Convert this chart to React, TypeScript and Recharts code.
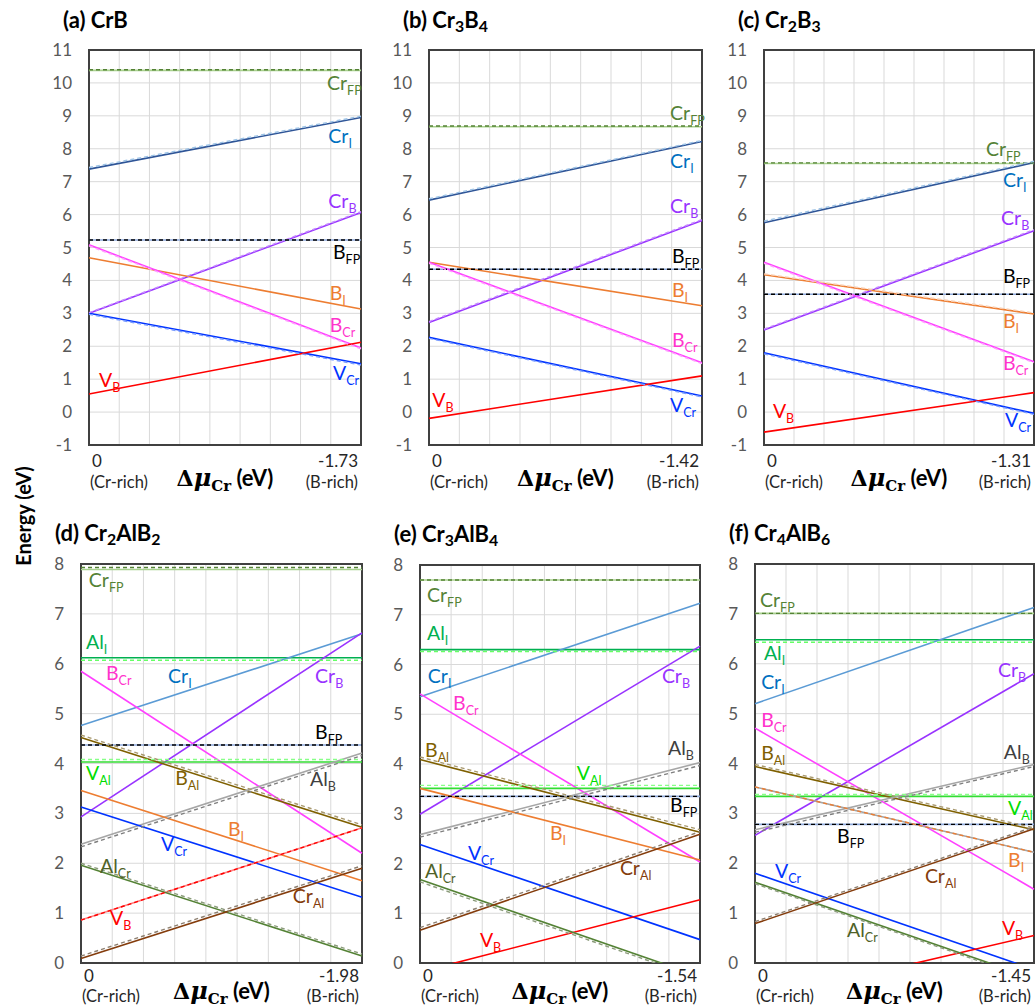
import React from "react";
import { LineChart, Line, XAxis, YAxis, CartesianGrid, ReferenceDot, ReferenceArea } from "recharts";

type Key =
  | "CrFP" | "CrI" | "CrB" | "BFP" | "BI" | "BCr" | "VCr" | "VB"
  | "AlI" | "VAl" | "BAl" | "AlB" | "AlCr" | "CrAl";
type Num = number | null;

// panel titles and Δμ_Cr range (eV) at the B-rich end
const titles = ["(a) CrB", "(b) Cr3B4", "(c) Cr2B3", "(d) Cr2AlB2", "(e) Cr3AlB4", "(f) Cr4AlB6"];
const muRange = [1.73, 1.42, 1.31, 1.98, 1.54, 1.45];

const yTicksBinary = [-1, 0, 1, 2, 3, 4, 5, 6, 7, 8, 9, 10, 11];
const yTicksTernary = [0, 1, 2, 3, 4, 5, 6, 7, 8];

const keysBinary: Key[] = ["CrFP", "CrI", "CrB", "BFP", "BI", "BCr", "VCr", "VB"];
const keysTernary: Key[] = ["CrFP", "AlI", "CrI", "CrB", "BCr", "BFP", "VAl", "BAl", "AlB", "BI", "VCr", "VB", "AlCr", "CrAl"];

// formation energies (eV): Cr-rich end / B-rich end, solid and dashed sets
const crbLeft = [10.38, 7.38, 3.0, 5.23, 4.69, 5.08, 3.0, 0.55];
const crbRight = [10.38, 8.95, 6.06, 5.23, 3.13, 1.95, 1.47, 2.12];
const crbDashLeft: Num[] = [10.4, 7.43, 3.02, 5.23, null, 5.05, 2.97, null];
const crbDashRight: Num[] = [10.4, 8.99, 6.09, 5.23, null, 1.92, 1.43, null];

const cr3b4Left = [8.67, 6.44, 2.72, 4.34, 4.55, 4.55, 2.27, -0.19];
const cr3b4Right = [8.67, 8.22, 5.82, 4.34, 3.23, 1.5, 0.49, 1.1];
const cr3b4DashLeft: Num[] = [8.69, 6.48, 2.75, 4.34, null, 4.52, 2.24, null];
const cr3b4DashRight: Num[] = [8.69, 8.25, 5.85, 4.34, null, 1.47, 0.46, null];

const cr2b3Left = [7.55, 5.75, 2.49, 3.58, 4.17, 4.55, 1.8, -0.61];
const cr2b3Right = [7.55, 7.58, 5.51, 3.58, 2.98, 1.53, -0.04, 0.59];
const cr2b3DashLeft: Num[] = [7.57, 5.8, 2.52, 3.58, 4.2, 4.52, 1.77, null];
const cr2b3DashRight: Num[] = [7.57, 7.62, 5.54, 3.58, 3.01, 1.5, -0.07, null];

const cr2alb2Left = [7.89, 6.12, 4.76, 2.93, 5.85, 4.37, 4.03, 4.52, 2.38, 3.46, 3.13, 0.86, 1.96, 0.09];
const cr2alb2Right = [7.89, 6.12, 6.6, 6.62, 2.2, 4.37, 4.03, 2.72, 4.21, 1.65, 1.32, 2.71, 0.14, 1.9];
const cr2alb2DashLeft: Num[] = [7.93, 6.07, null, null, null, 4.37, 4.08, 4.57, 2.33, null, null, 0.86, 2.0, 0.14];
const cr2alb2DashRight: Num[] = [7.93, 6.07, null, null, null, 4.37, 4.08, 2.77, 4.16, null, null, 2.71, 0.18, 1.95];

const cr3alb4Left = [7.7, 6.3, 5.35, 2.99, 5.41, 3.35, 3.51, 4.09, 2.58, 3.51, 2.38, -0.18, 1.68, 0.66];
const cr3alb4Right = [7.7, 6.3, 7.23, 6.37, 2.03, 3.35, 3.51, 2.63, 4.03, 2.07, 0.47, 1.27, -0.27, 2.59];
const cr3alb4DashLeft: Num[] = [7.7, 6.26, null, null, null, 3.35, 3.57, 4.14, 2.53, null, null, null, 1.63, 0.71];
const cr3alb4DashRight: Num[] = [7.7, 6.26, null, null, null, 3.35, 3.57, 2.68, 3.97, null, null, null, -0.31, 2.64];

const cr4alb6Left = [7.01, 6.48, 5.2, 2.56, 4.71, 2.78, 3.34, 3.94, 2.67, 3.53, 1.8, -0.75, 1.62, 0.79];
const cr4alb6Right = [7.01, 6.48, 7.13, 5.8, 1.48, 2.78, 3.34, 2.67, 3.98, 2.22, -0.13, 0.55, -0.31, 2.69];
const cr4alb6DashLeft: Num[] = [7.01, 6.43, null, null, null, 2.78, 3.38, 3.98, 2.62, 3.53, null, null, 1.59, 0.83];
const cr4alb6DashRight: Num[] = [7.01, 6.43, null, null, null, 2.78, 3.38, 2.71, 3.94, 2.22, null, null, -0.34, 2.73];

// label anchors: [defect, fraction along Δμ axis, energy]
type LabelPos = [Key, number, number];
const labelsA: LabelPos[] = [
  ["CrFP", 0.875, 9.78], ["CrI", 0.88, 8.17], ["CrB", 0.88, 6.2], ["BFP", 0.897, 4.65],
  ["BI", 0.885, 3.41], ["BCr", 0.885, 2.43], ["VCr", 0.897, 0.97], ["VB", 0.037, 0.76],
];
const labelsB: LabelPos[] = [
  ["CrFP", 0.883, 8.87], ["CrI", 0.883, 7.41], ["CrB", 0.883, 6.05], ["BFP", 0.89, 4.53],
  ["BI", 0.89, 3.5], ["BCr", 0.89, 1.98], ["VCr", 0.883, 0.0], ["VB", 0.012, 0.16],
];
const labelsC: LabelPos[] = [
  ["CrFP", 0.822, 7.78], ["CrI", 0.885, 6.84], ["CrB", 0.878, 5.68], ["BFP", 0.885, 3.92],
  ["BI", 0.885, 2.55], ["BCr", 0.885, 1.28], ["VCr", 0.893, -0.45], ["VB", 0.033, -0.18],
];
const labelsD: LabelPos[] = [
  ["CrFP", 0.028, 7.54], ["AlI", 0.018, 6.3], ["BCr", 0.089, 5.67], ["CrI", 0.31, 5.61],
  ["CrB", 0.833, 5.61], ["BFP", 0.833, 4.5], ["VAl", 0.018, 3.67], ["BAl", 0.335, 3.57],
  ["AlB", 0.815, 3.55], ["BI", 0.523, 2.55], ["VCr", 0.285, 2.25], ["AlCr", 0.068, 1.8],
  ["CrAl", 0.754, 1.2], ["VB", 0.103, 0.76],
];
const labelsE: LabelPos[] = [
  ["CrFP", 0.025, 7.26], ["AlI", 0.025, 6.49], ["CrI", 0.028, 5.63], ["BCr", 0.118, 5.09],
  ["CrB", 0.864, 5.63], ["BAl", 0.018, 4.14], ["VAl", 0.56, 3.68], ["AlB", 0.886, 4.18],
  ["BFP", 0.893, 3.03], ["BI", 0.464, 2.47], ["VCr", 0.171, 2.07], ["AlCr", 0.018, 1.71],
  ["CrAl", 0.714, 1.77], ["VB", 0.214, 0.32],
];
const labelsF: LabelPos[] = [
  ["CrFP", 0.018, 7.14], ["AlI", 0.032, 6.08], ["CrI", 0.022, 5.5], ["CrB", 0.871, 5.74],
  ["BCr", 0.022, 4.73], ["BAl", 0.022, 4.07], ["AlB", 0.892, 4.09], ["VAl", 0.907, 2.97],
  ["BFP", 0.294, 2.41], ["BI", 0.907, 1.93], ["VCr", 0.072, 1.71], ["CrAl", 0.609, 1.61],
  ["AlCr", 0.33, 0.53], ["VB", 0.885, 0.56],
];

type Style = { solid: string; dash: string; label: string; main: string; sub: string };
const baseStyle: Record<Key, Style> = {
  CrFP: { solid: "#A9D18E", dash: "#548235", label: "#548235", main: "Cr", sub: "FP" },
  CrI: { solid: "#2F5597", dash: "#9DC3E6", label: "#0070C0", main: "Cr", sub: "I" },
  CrB: { solid: "#9933FF", dash: "#C58CFF", label: "#9933FF", main: "Cr", sub: "B" },
  BFP: { solid: "#8EA9DB", dash: "#000000", label: "#000000", main: "B", sub: "FP" },
  BI: { solid: "#ED7D31", dash: "#F8CBAD", label: "#ED7D31", main: "B", sub: "I" },
  BCr: { solid: "#FF40FF", dash: "#FFA0FF", label: "#FF33CC", main: "B", sub: "Cr" },
  VCr: { solid: "#0033FF", dash: "#7A9CFF", label: "#0033FF", main: "V", sub: "Cr" },
  VB: { solid: "#FF0000", dash: "#FF0000", label: "#FF0000", main: "V", sub: "B" },
  AlI: { solid: "#00B050", dash: "#66FF66", label: "#00B050", main: "Al", sub: "I" },
  VAl: { solid: "#33DD33", dash: "#88FF88", label: "#00DD00", main: "V", sub: "Al" },
  BAl: { solid: "#7F6000", dash: "#A89970", label: "#7F6000", main: "B", sub: "Al" },
  AlB: { solid: "#A6A6A6", dash: "#7F7F7F", label: "#404040", main: "Al", sub: "B" },
  AlCr: { solid: "#548235", dash: "#8C9C7C", label: "#4F6228", main: "Al", sub: "Cr" },
  CrAl: { solid: "#843C0C", dash: "#8C7F70", label: "#843C0C", main: "Cr", sub: "Al" },
};
const ternaryColors: Partial<Record<Key, Partial<Style>>> = {
  CrI: { solid: "#5B9BD5" },
};
const panelColors: Partial<Record<Key, Partial<Style>>>[] = [
  {}, {}, {},
  { ...ternaryColors, VB: { solid: "#FF8080", dash: "#FF0000" } },
  ternaryColors,
  { ...ternaryColors, BI: { solid: "#A5A5A5", dash: "#ED7D31" } },
];

const FONT = "Lato, 'Open Sans', sans-serif";

function Formula({ text }: { text: string }) {
  const parts = text.split(/(\d+)/);
  return (
    <>
      {parts.map((p, i) =>
        /^\d+$/.test(p) ? (
          <span key={i} style={{ fontSize: "0.72em", verticalAlign: "-0.28em" }}>{p}</span>
        ) : (
          <span key={i}>{p}</span>
        )
      )}
    </>
  );
}

function DefectLabel(props: any) {
  const { viewBox, main, sub, color } = props;
  if (!viewBox) return null;
  return (
    <text x={viewBox.x} y={viewBox.y} fill={color} fontFamily={FONT} fontSize={19.5}>
      {main}
      <tspan dy={5} fontSize={12.5}>{sub}</tspan>
    </text>
  );
}

function AxisTitle(props: any) {
  const { viewBox, offsetY } = props;
  if (!viewBox) return null;
  return (
    <text x={viewBox.x + viewBox.width / 2} y={viewBox.y + offsetY} textAnchor="middle" fill="#000" fontWeight="bold">
      <tspan fontFamily="'DejaVu Serif', serif" fontSize={22}>Δ</tspan>
      <tspan fontFamily="'DejaVu Serif', serif" fontStyle="italic" fontSize={24}>μ</tspan>
      <tspan fontFamily="'DejaVu Serif', serif" fontSize={15} dy={5}>Cr</tspan>
      <tspan fontFamily={FONT} fontSize={22} dy={-5}> (eV)</tspan>
    </text>
  );
}

function XTick(props: any) {
  const { x, y, payload, mu, dy1, dy2 } = props;
  const v = payload.value;
  const isLeft = Math.abs(v) < 1e-9;
  const isRight = Math.abs(v + mu) < 1e-9;
  if (!isLeft && !isRight) return null;
  const anchor = isLeft ? "start" : "end";
  const tx = isLeft ? x + 1 : x - 3;
  return (
    <g>
      <text x={isLeft ? x + 3 : tx} y={y + dy1} textAnchor={anchor} fill="#262626" fontFamily={FONT} fontSize={17}>
        {isLeft ? "0" : `-${mu.toFixed(2)}`}
      </text>
      <text x={tx} y={y + dy2} textAnchor={anchor} fill="#262626" fontFamily={FONT} fontSize={16.5}>
        {isLeft ? "(Cr-rich)" : "(B-rich)"}
      </text>
    </g>
  );
}

type PanelProps = {
  idx: number;
  keys: Key[];
  left: number[];
  right: number[];
  dashLeft: Num[];
  dashRight: Num[];
  labels: LabelPos[];
  yTicks: number[];
  box: [number, number, number, number];
  row: 0 | 1;
};

function Panel({ idx, keys, left, right, dashLeft, dashRight, labels, yTicks, box, row }: PanelProps) {
  const mu = muRange[idx];
  const [L, T, W, H] = box;
  const yMin = yTicks[0];
  const yMax = yTicks[yTicks.length - 1];
  const xTicks = Array.from({ length: 10 }, (_, i) => (-mu * i) / 9);
  const colors = panelColors[idx];
  const style = (k: Key): Style => ({ ...baseStyle[k], ...(colors[k] || {}) });

  const p0: Record<string, number> = { x: 0 };
  const p1: Record<string, number> = { x: -mu };
  keys.forEach((k, i) => {
    p0[k] = left[i];
    p1[k] = right[i];
    const dl = dashLeft[i];
    const dr = dashRight[i];
    if (dl !== null && dr !== null) {
      p0[k + "_d"] = dl;
      p1[k + "_d"] = dr;
    }
  });
  const data = [p0, p1];
  const dy1 = row === 0 ? 22 : 19;
  const dy2 = row === 0 ? 43 : 39;
  const titleOffset = row === 0 ? 41 : 36;

  return (
    <>
      <div
        style={{
          position: "absolute",
          left: L - 26,
          top: T - (row === 0 ? 42 : 43),
          fontFamily: FONT,
          fontWeight: "bold",
          fontSize: 22,
          lineHeight: "24px",
          whiteSpace: "nowrap",
          color: "#000",
        }}
      >
        <Formula text={titles[idx]} />
      </div>
      <div style={{ position: "absolute", left: L - 50, top: T - 10 }}>
        <LineChart width={W + 60} height={H + 70} data={data} margin={{ top: 10, right: 10, bottom: 0, left: 0 }}>
          <CartesianGrid stroke="#D9D9D9" strokeWidth={1} />
          <XAxis
            dataKey="x"
            type="number"
            domain={[-mu, 0]}
            reversed
            ticks={xTicks}
            interval={0}
            axisLine={false}
            tickLine={false}
            tickSize={0}
            tickMargin={0}
            height={60}
            tick={(p: any) => <XTick {...p} mu={mu} dy1={dy1} dy2={dy2} />}
            label={{ content: <AxisTitle offsetY={titleOffset} /> }}
          />
          <YAxis
            type="number"
            domain={[yMin, yMax]}
            ticks={yTicks}
            interval={0}
            allowDataOverflow
            axisLine={false}
            tickLine={false}
            tickSize={0}
            tickMargin={17}
            width={50}
            tick={{ fill: "#595959", fontSize: 17, fontFamily: FONT }}
          />
          {keys.map((k) => {
            const s = style(k);
            return (
              <Line
                key={k}
                type="linear"
                dataKey={k}
                stroke={s.solid}
                strokeWidth={1.6}
                dot={false}
                activeDot={false}
                isAnimationActive={false}
              />
            );
          })}
          {keys.map((k) => {
            if (p0[k + "_d"] === undefined) return null;
            const s = style(k);
            return (
              <Line
                key={k + "_d"}
                type="linear"
                dataKey={k + "_d"}
                stroke={s.dash}
                strokeWidth={1.4}
                strokeDasharray="4 3"
                dot={false}
                activeDot={false}
                isAnimationActive={false}
              />
            );
          })}
          <ReferenceArea
            x1={-mu}
            x2={0}
            y1={yMin}
            y2={yMax}
            fill="none"
            fillOpacity={0}
            stroke="#404040"
            strokeWidth={2}
            ifOverflow="visible"
          />
          {labels.map(([k, f, y]) => {
            const s = style(k);
            return (
              <ReferenceDot
                key={"lbl" + k}
                x={-mu * f}
                y={y}
                r={0}
                fill="none"
                stroke="none"
                ifOverflow="visible"
                label={<DefectLabel main={s.main} sub={s.sub} color={s.label} />}
              />
            );
          })}
        </LineChart>
      </div>
    </>
  );
}

export default function App() {
  return (
    <div
      style={{
        position: "absolute",
        left: 0,
        top: 0,
        width: 1035,
        height: 1008,
        overflow: "hidden",
        background: "#fff",
      }}
    >
      <Panel idx={0} keys={keysBinary} left={crbLeft} right={crbRight} dashLeft={crbDashLeft} dashRight={crbDashRight}
        labels={labelsA} yTicks={yTicksBinary} box={[89, 50, 272, 395]} row={0} />
      <Panel idx={1} keys={keysBinary} left={cr3b4Left} right={cr3b4Right} dashLeft={cr3b4DashLeft} dashRight={cr3b4DashRight}
        labels={labelsB} yTicks={yTicksBinary} box={[429, 50, 273, 395]} row={0} />
      <Panel idx={2} keys={keysBinary} left={cr2b3Left} right={cr2b3Right} dashLeft={cr2b3DashLeft} dashRight={cr2b3DashRight}
        labels={labelsC} yTicks={yTicksBinary} box={[764, 50, 270, 395]} row={0} />
      <Panel idx={3} keys={keysTernary} left={cr2alb2Left} right={cr2alb2Right} dashLeft={cr2alb2DashLeft} dashRight={cr2alb2DashRight}
        labels={labelsD} yTicks={yTicksTernary} box={[81, 564, 281, 399]} row={1} />
      <Panel idx={4} keys={keysTernary} left={cr3alb4Left} right={cr3alb4Right} dashLeft={cr3alb4DashLeft} dashRight={cr3alb4DashRight}
        labels={labelsE} yTicks={yTicksTernary} box={[420, 565, 280, 398]} row={1} />
      <Panel idx={5} keys={keysTernary} left={cr4alb6Left} right={cr4alb6Right} dashLeft={cr4alb6DashLeft} dashRight={cr4alb6DashRight}
        labels={labelsF} yTicks={yTicksTernary} box={[755, 564, 279, 399]} row={1} />
      <div
        style={{
          position: "absolute",
          left: 23,
          top: 516,
          transform: "translate(-50%, -50%) rotate(-90deg)",
          fontFamily: FONT,
          fontWeight: "bold",
          fontSize: 20,
          whiteSpace: "nowrap",
          color: "#000",
        }}
      >
        Energy (eV)
      </div>
    </div>
  );
}
